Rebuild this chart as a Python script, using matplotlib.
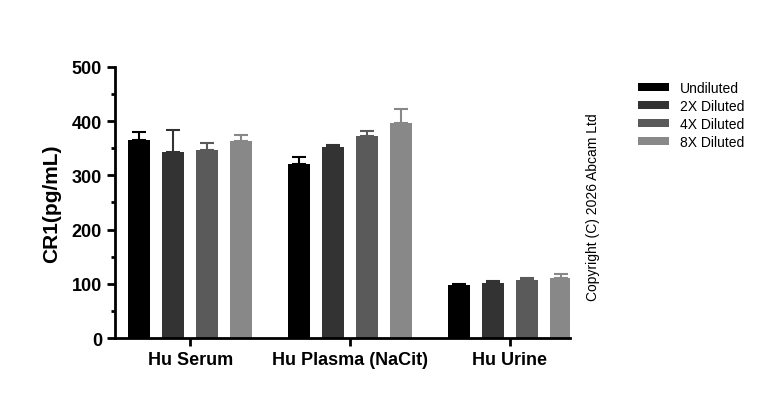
import matplotlib
matplotlib.use("Agg")
import matplotlib.pyplot as plt
import numpy as np

plt.rcParams['font.family'] = ['Liberation Sans', 'DejaVu Sans']

groups = ["Hu Serum", "Hu Plasma (NaCit)", "Hu Urine"]
series = ["Undiluted", "2X Diluted", "4X Diluted", "8X Diluted"]
means = [[365, 320, 97], [343, 352, 102], [347, 373, 107], [364, 396, 110]]
errs = [[14, 13, 3], [40, 3, 3], [13, 9, 3], [11, 26, 8]]
colors = ["#000000", "#333333", "#5a5a5a", "#888888"]

fig = plt.figure(figsize=(7.68, 4.06), dpi=100)
ax = fig.add_axes([0.15, 0.165, 0.592, 0.668])
x = np.arange(len(groups))
w = 0.1375
step = 0.2125
for i, s in enumerate(series):
    pos = x + (i - 1.5) * step
    ax.bar(pos, means[i], w, color=colors[i], label=s, zorder=2)
    ax.errorbar(pos, means[i], yerr=[np.zeros(3), errs[i]], fmt='none',
                ecolor=colors[i], elinewidth=1.5, capsize=5, capthick=1.5, zorder=1)

ax.set_xlim(-0.47, 2.375)
ax.set_ylim(0, 500)
ax.set_yticks([0, 100, 200, 300, 400, 500])
ax.set_yticks(np.arange(50, 500, 100), minor=True)
ax.set_xticks(x)
ax.set_xticklabels(groups, fontsize=13, fontweight='bold')
for lbl in ax.get_yticklabels():
    lbl.set_fontsize(13); lbl.set_fontweight('bold')
ax.tick_params(axis='y', which='major', width=2, length=6)
ax.tick_params(axis='y', which='minor', width=2, length=3)
ax.tick_params(axis='x', width=2, length=6)
for sp in ['top', 'right']:
    ax.spines[sp].set_visible(False)
for sp in ['left', 'bottom']:
    ax.spines[sp].set_linewidth(2)
ax.set_ylabel("CR1(pg/mL)", fontsize=15, fontweight='bold', labelpad=8)

fig.legend(loc='upper left', bbox_to_anchor=(0.815, 0.83), frameon=False,
           fontsize=10, handlelength=2.2, handleheight=0.5, labelspacing=0.3)
fig.text(0.772, 0.49, "Copyright (C) 2026 Abcam Ltd", rotation=90,
         fontsize=10, ha='center', va='center')
fig.savefig("out.png", dpi=100)
